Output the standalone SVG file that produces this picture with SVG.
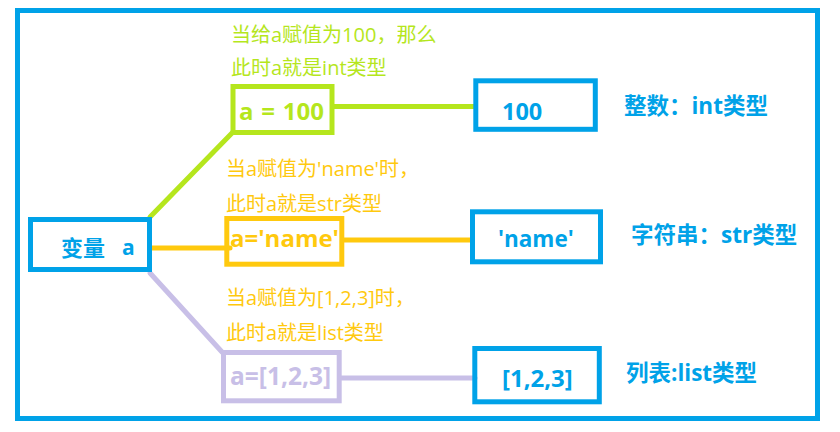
<svg xmlns="http://www.w3.org/2000/svg" width="840" height="432" viewBox="0 0 840 432">
<style>
.bg{fill:#ffffff}
.frame{fill:none;stroke:#00A2E8;stroke-width:5}
.box{fill:none;stroke-width:5}
.blue{stroke:#00A2E8}
.green{stroke:#B5E61D}
.gold{stroke:#FFC90E}
.lav{stroke:#C8BFE7}
text{font-family:"Open Sans","Noto Sans CJK SC",sans-serif}
.t{font-weight:bold}
.tb{fill:#00A2E8}
.tg{fill:#B5E61D}
.ty{fill:#FFC90E}
.tl{fill:#C8BFE7}
.note{font-size:20px}
.lab{font-size:22.5px}
.conn{fill:none;stroke-width:5;stroke-linecap:round}
</style>
<rect class="bg" x="0" y="0" width="840" height="432"/>
<rect class="frame" x="17.5" y="10.5" width="800" height="408"/>
<g id="connectors">
<line class="conn green" x1="150" y1="217" x2="233" y2="132"/>
<line class="conn green" x1="333" y1="106.5" x2="474" y2="106.5"/>
<line class="conn gold" x1="150" y1="248" x2="230" y2="248"/>
<line class="conn gold" x1="343" y1="240" x2="471" y2="240"/>
<line class="conn lav" x1="150" y1="273" x2="222" y2="352"/>
<line class="conn lav" x1="340" y1="378" x2="475" y2="378"/>
</g>
<g id="node-var">
<rect class="box blue" x="30.5" y="219.5" width="119" height="50"/>
<text class="t tb" x="61" y="256" font-size="22">变量</text>
<text class="t tb" x="122" y="255" font-size="21">a</text>
</g>
<g id="node-a100">
<rect class="box green" x="233" y="86.5" width="99" height="46"/>
<text class="t tg" x="239" y="120" font-size="24" word-spacing="1.5">a = 100</text>
</g>
<g id="note-int">
<text class="note tg" x="231" y="42">当给a赋值为100，那么</text>
<text class="note tg" x="231" y="75">此时a就是int类型</text>
</g>
<g id="node-100">
<rect class="box blue" x="475.8" y="80.8" width="119.5" height="48.5"/>
<text class="t tb" x="502" y="120" font-size="23.5">100</text>
</g>
<text id="label-int" class="t tb lab" x="624" y="114">整数：int类型</text>
<g id="node-aname">
<rect class="box gold" x="226.8" y="218.5" width="115" height="45.7"/>
<text class="t ty" x="230" y="247" font-size="24">a='name'</text>
</g>
<g id="note-str">
<text class="note ty" x="226" y="176">当a赋值为'name'时，</text>
<text class="note ty" x="226" y="211">此时a就是str类型</text>
</g>
<g id="node-name">
<rect class="box blue" x="472.5" y="211.8" width="128" height="50"/>
<text class="t tb" x="498" y="247" font-size="22.5">'name'</text>
</g>
<text id="label-str" class="t tb lab" x="631" y="243">字符串：str类型</text>
<g id="node-alist">
<rect class="box lav" x="223.5" y="352.5" width="115.7" height="48.3"/>
<text class="t tl" x="230" y="385" font-size="24.5">a=[1,2,3]</text>
</g>
<g id="note-list">
<text class="note ty" x="226" y="305">当a赋值为[1,2,3]时，</text>
<text class="note ty" x="226" y="340">此时a就是list类型</text>
</g>
<g id="node-list">
<rect class="box blue" x="474.8" y="348.5" width="124.5" height="53.3"/>
<text class="t tb" x="502" y="387" font-size="24">[1,2,3]</text>
</g>
<text id="label-list" class="t tb lab" x="626" y="381">列表:list类型</text>
</svg>
